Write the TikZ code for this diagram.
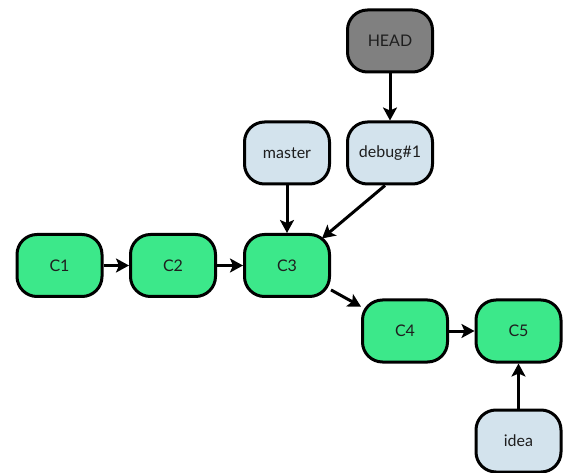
\documentclass[tikz,border=0pt]{standalone}
\usepackage{fontspec}
\setmainfont{Lato}
\usetikzlibrary{arrows.meta,calc}
\definecolor{commitgreen}{RGB}{60,232,138}
\definecolor{refblue}{RGB}{211,227,237}
\definecolor{headgray}{RGB}{128,128,128}
\definecolor{txt}{RGB}{30,30,30}
\tikzset{
  box/.style={draw=black, line width=3pt, rounded corners=20pt, minimum width=85pt, minimum height=62pt, inner sep=0pt, font=\fontsize{16}{18}\selectfont, text=txt},
  commit/.style={box, fill=commitgreen},
  ref/.style={box, fill=refblue},
  headref/.style={box, fill=headgray},
  conn/.style={line width=3pt, -{Stealth[length=13pt,width=14pt,inset=3pt]}}
}
\begin{document}
\begin{tikzpicture}[x=1pt,y=-1pt]
\useasboundingbox (0,0) rectangle (568,473);
\node[commit] (C1) at (59.5,265.5) {C1};
\node[commit] (C2) at (173,265.5) {C2};
\node[commit] (C3) at (287,265.5) {C3};
\node[commit] (C4) at (405,331) {C4};
\node[commit] (C5) at (518.5,331) {C5};
\node[ref] (master) at (287,153) {master};
\node[ref] (debug) at (390,153) {debug\#1};
\node[headref] (HEAD) at (390,41) {HEAD};
\node[ref] (idea) at (518.5,441) {idea};
\coordinate (C3in) at ($(C3.center)+(35,-27)$);
\draw[conn] (C1) -- (C2);
\draw[conn] (C2) -- (C3);
\draw[conn] (C3) -- (C4);
\draw[conn] (C4) -- (C5);
\draw[conn] (master) -- (C3);
\draw[conn] ([xshift=-5pt]debug.south) -- (C3in);
\draw[conn] (HEAD) -- (debug);
\draw[conn] (idea) -- (C5);
\end{tikzpicture}
\end{document}
